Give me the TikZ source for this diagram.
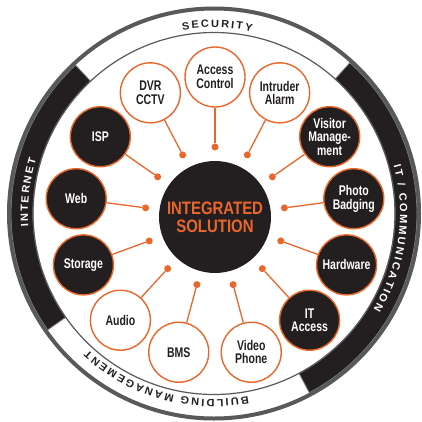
\documentclass[tikz,border=0pt]{standalone}
\usepackage{fontspec}
\usepackage{tikz}
\usetikzlibrary{calc}
\newfontfamily\satfamily{Liberation Sans}[FakeStretch=0.75]
\newfontfamily\hubfamily{Liberation Sans}[FakeStretch=0.83]
\newfontfamily\ringfamily{Liberation Sans}[FakeStretch=1.05]
\definecolor{ink}{HTML}{231F20}
\definecolor{accent}{HTML}{E9672B}
\definecolor{rim}{HTML}{58595B}
\tikzset{
  rimline/.style={draw=rim, line width=4pt},
  riminner/.style={draw=rim, line width=1.2pt},
  band/.style={fill=ink, draw=rim!70, line width=0.8pt},
  ringtxt/.style={font=\ringfamily\bfseries\fontsize{10.5}{10.5}\selectfont, inner sep=0pt, anchor=base},
  hub/.style={circle, fill=ink, minimum size=112pt, inner sep=0pt, align=center,
    text=accent, font=\hubfamily\bfseries\fontsize{18}{18}\selectfont},
  sat/.style={circle, draw=accent, line width=1.4pt, minimum size=60pt, inner sep=0pt,
    align=center, font=\satfamily\bfseries\fontsize{14}{13.5}\selectfont},
  satw/.style={sat, fill=white, text=ink},
  satb/.style={sat, fill=ink, text=white},
  dot/.style={circle, fill=accent, inner sep=0pt, minimum size=7pt},
  link/.style={draw=accent, line width=1.3pt},
}
% rim letters: #1 angle of the first letter's left edge, #2 colour, #3 letter/em-width list
\newcommand\rimword[3]{%
  \foreach \ch/\w [remember=\nx as \px (initially 0),
                   evaluate=\w as \nx using \px+\w*11.025+2] in {#3} {
    \pgfmathsetmacro\a{#1-(\px+\w*11.025/2)*0.30804}
    \node[ringtxt, text=#2, rotate=\a-90] at ($(R)+(\a:186pt)$) {\ch};
  }%
}
\begin{document}
\begin{tikzpicture}[x=1pt,y=1pt]
  \useasboundingbox[fill=white] (-215,-204) rectangle (207,217);
  \coordinate (O) at (0,0);
  \coordinate (R) at (-1,3.5);

  % dark parts of the rim
  \path[band] ($(R)+(133:203pt)$) arc[start angle=133, end angle=215, radius=203pt]
    -- ($(R)+(215:181pt)$) arc[start angle=215, end angle=133, radius=181pt] -- cycle;
  \path[band] ($(R)+(48:203pt)$) arc[start angle=48, end angle=-62, radius=203pt]
    -- ($(R)+(-62:181pt)$) arc[start angle=-62, end angle=48, radius=181pt] -- cycle;
  \draw[rimline] (R) circle[radius=205pt];
  \draw[riminner] (R) circle[radius=181pt];

  % rim labels
  \rimword{99.74}{ink}{S/.667,E/.667,C/.722,U/.722,R/.722,I/.278,T/.611,Y/.667}
  \rimword{184.15}{white}{I/.278,N/.722,T/.611,E/.667,R/.722,N/.722,E/.667,T/.611}
  \rimword{14.97}{white}{I/.278,T/.611,{\ }/.278,\slash/.278,{\ }/.278,C/.722,O/.778,M/.833,
    M/.833,U/.722,N/.722,I/.278,C/.722,A/.722,T/.611,I/.278,O/.778,N/.722}
  \rimword{280.58}{ink}{B/.722,U/.722,I/.278,L/.611,D/.722,I/.278,N/.722,G/.778,{\ }/.278,
    M/.833,A/.722,N/.722,A/.722,G/.778,E/.667,M/.833,E/.667,N/.722,T/.611}

  % services round the hub
  \foreach \ang/\nm/\kind/\txt in {
      90/acc/satw/{Access\\Control},
      117.5/dvr/satw/{DVR\\CCTV},
      145/isp/satb/ISP,
      172.5/web/satb/Web,
      200/sto/satb/Storage,
      227.5/aud/satw/Audio,
      255/bms/satw/BMS,
      285/vid/satw/{Video\\Phone},
      312.5/ita/satb/{IT\\Access},
      340/hw/satb/Hardware,
      7.5/pho/satb/{Photo\\Badging},
      35/vis/satb/{Visitor\\Manage-\\ment},
      62.5/intr/satw/{Intruder\\Alarm}} {
    \node[dot] (d-\nm) at (\ang:70pt) {};
    \node[\kind] (\nm) at (\ang:140pt) {\txt};
    \draw[link] (\nm) -- (d-\nm);
  }

  \node[hub] (hub) at (O) {INTEGRATED\\SOLUTION};
\end{tikzpicture}
\end{document}
